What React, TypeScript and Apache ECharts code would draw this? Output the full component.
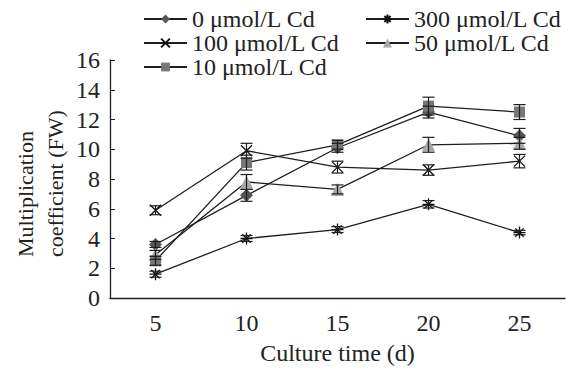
import React, { useEffect, useRef } from "react";
import * as echarts from "echarts";

const categories = ["5", "10", "15", "20", "25"];
const s0 = [3.6, 6.9, 10.1, 12.5, 10.9];
const s0Err = [0.2, 0.4, 0.3, 0.4, 0.5];
const s300 = [1.6, 4.0, 4.6, 6.3, 4.4];
const s300Err = [0.2, 0.2, 0.2, 0.25, 0.15];
const s100 = [5.9, 9.9, 8.8, 8.6, 9.2];
const s100Err = [0.3, 0.5, 0.4, 0.35, 0.45];
const s50 = [2.9, 7.8, 7.3, 10.3, 10.4];
const s50Err = [0.3, 0.5, 0.3, 0.5, 0.4];
const s10 = [2.5, 9.1, 10.3, 12.9, 12.5];
const s10Err = [0.3, 0.5, 0.3, 0.6, 0.5];
const yTicks = { min: 0, max: 16, interval: 2 };
const names = ["0 μmol/L Cd", "300 μmol/L Cd", "100 μmol/L Cd", "50 μmol/L Cd", "10 μmol/L Cd"];

const FONT = "'Liberation Serif', 'Times New Roman', serif";
const LINE = "#1e1e1e";

const crossPath = "path://M0,0L10,10M10,0L0,10";
const starPath = "path://M5,0L5,10M0,5L10,5M1.5,1.5L8.5,8.5M8.5,1.5L1.5,8.5";

export default function App() {
  const ref = useRef<HTMLDivElement>(null);
  useEffect(() => {
    if (!ref.current) return;
    const chart = echarts.init(ref.current, undefined, { renderer: "svg" });

    const seriesDefs = [
      { name: names[0], data: s0, err: s0Err, symbol: "diamond", size: 13, color: "#555555" },
      { name: names[1], data: s300, err: s300Err, symbol: starPath, size: 12, color: "#111111" },
      { name: names[2], data: s100, err: s100Err, symbol: crossPath, size: 11, color: "#111111" },
      { name: names[3], data: s50, err: s50Err, symbol: "triangle", size: 13, color: "#a8a8a8" },
      { name: names[4], data: s10, err: s10Err, symbol: "rect", size: 11, color: "#777777" },
    ];

    const errData: number[][] = [];
    seriesDefs.forEach((s) => {
      s.data.forEach((v, i) => {
        errData.push([i, v - s.err[i], v + s.err[i]]);
      });
    });

    const lineSeries = seriesDefs.map((s) => {
      const stroked = s.symbol.startsWith("path://");
      return {
        type: "line",
        name: s.name,
        data: s.data,
        symbol: s.symbol,
        symbolSize: s.size,
        z: 3,
        lineStyle: { color: LINE, width: 1.3 },
        itemStyle: stroked
          ? { color: s.color, borderColor: s.color, borderWidth: 1.3 }
          : { color: s.color, borderWidth: 0 },
      };
    });

    const textStyle = { fontFamily: FONT, fontSize: 24, color: "#222" };
    const legendCommon = {
      orient: "vertical",
      top: 7,
      padding: 0,
      itemWidth: 43,
      itemHeight: 11,
      itemGap: 0,
      textStyle: { ...textStyle, lineHeight: 20 },
    };

    chart.setOption({
      animation: false,
      grid: { left: 110, right: 6, top: 60, bottom: 73 },
      legend: [
        { ...legendCommon, left: 143, data: [names[0], names[2], names[4]] },
        { ...legendCommon, left: 365, data: [names[1], names[3]] },
      ],
      xAxis: {
        type: "category",
        data: categories,
        boundaryGap: true,
        name: "Culture time (d)",
        nameLocation: "middle",
        nameGap: 43,
        nameTextStyle: { ...textStyle },
        axisLine: { lineStyle: { color: LINE, width: 1.3 } },
        axisTick: { alignWithLabel: true, inside: true, length: 5, lineStyle: { color: LINE } },
        axisLabel: { ...textStyle, margin: 13 },
        splitLine: { show: false },
      },
      yAxis: {
        type: "value",
        min: yTicks.min,
        max: yTicks.max,
        interval: yTicks.interval,
        axisLine: { show: true, lineStyle: { color: LINE, width: 1.3 } },
        axisTick: { show: true, inside: true, length: 5, lineStyle: { color: LINE } },
        axisLabel: { ...textStyle, margin: 10 },
        splitLine: { show: false },
      },
      graphic: [
        {
          type: "text",
          x: 25,
          y: 257,
          rotation: Math.PI / 2,
          style: { text: "Multiplication", fontFamily: FONT, fontSize: 22, fill: "#222", textAlign: "left", textVerticalAlign: "middle" },
        },
        {
          type: "text",
          x: 55,
          y: 257,
          rotation: Math.PI / 2,
          style: { text: "coefficient (FW)", fontFamily: FONT, fontSize: 22, fill: "#222", textAlign: "left", textVerticalAlign: "middle" },
        },
      ],
      series: [
        ...lineSeries,
        {
          type: "custom",
          name: "err",
          z: 4,
          data: errData,
          renderItem: (params: any, api: any) => {
            const i = api.value(0);
            const lo = api.coord([i, api.value(1)]);
            const hi = api.coord([i, api.value(2)]);
            const w = 6;
            const st = { stroke: LINE, lineWidth: 1.2 };
            return {
              type: "group",
              children: [
                { type: "line", shape: { x1: lo[0], y1: lo[1], x2: hi[0], y2: hi[1] }, style: st },
                { type: "line", shape: { x1: lo[0] - w, y1: lo[1], x2: lo[0] + w, y2: lo[1] }, style: st },
                { type: "line", shape: { x1: hi[0] - w, y1: hi[1], x2: hi[0] + w, y2: hi[1] }, style: st },
              ],
            };
          },
        },
      ],
    });
    return () => chart.dispose();
  }, []);
  return <div ref={ref} style={{ width: 571, height: 371, position: "fixed", left: 0, top: 0, background: "#fff" }} />;
}
